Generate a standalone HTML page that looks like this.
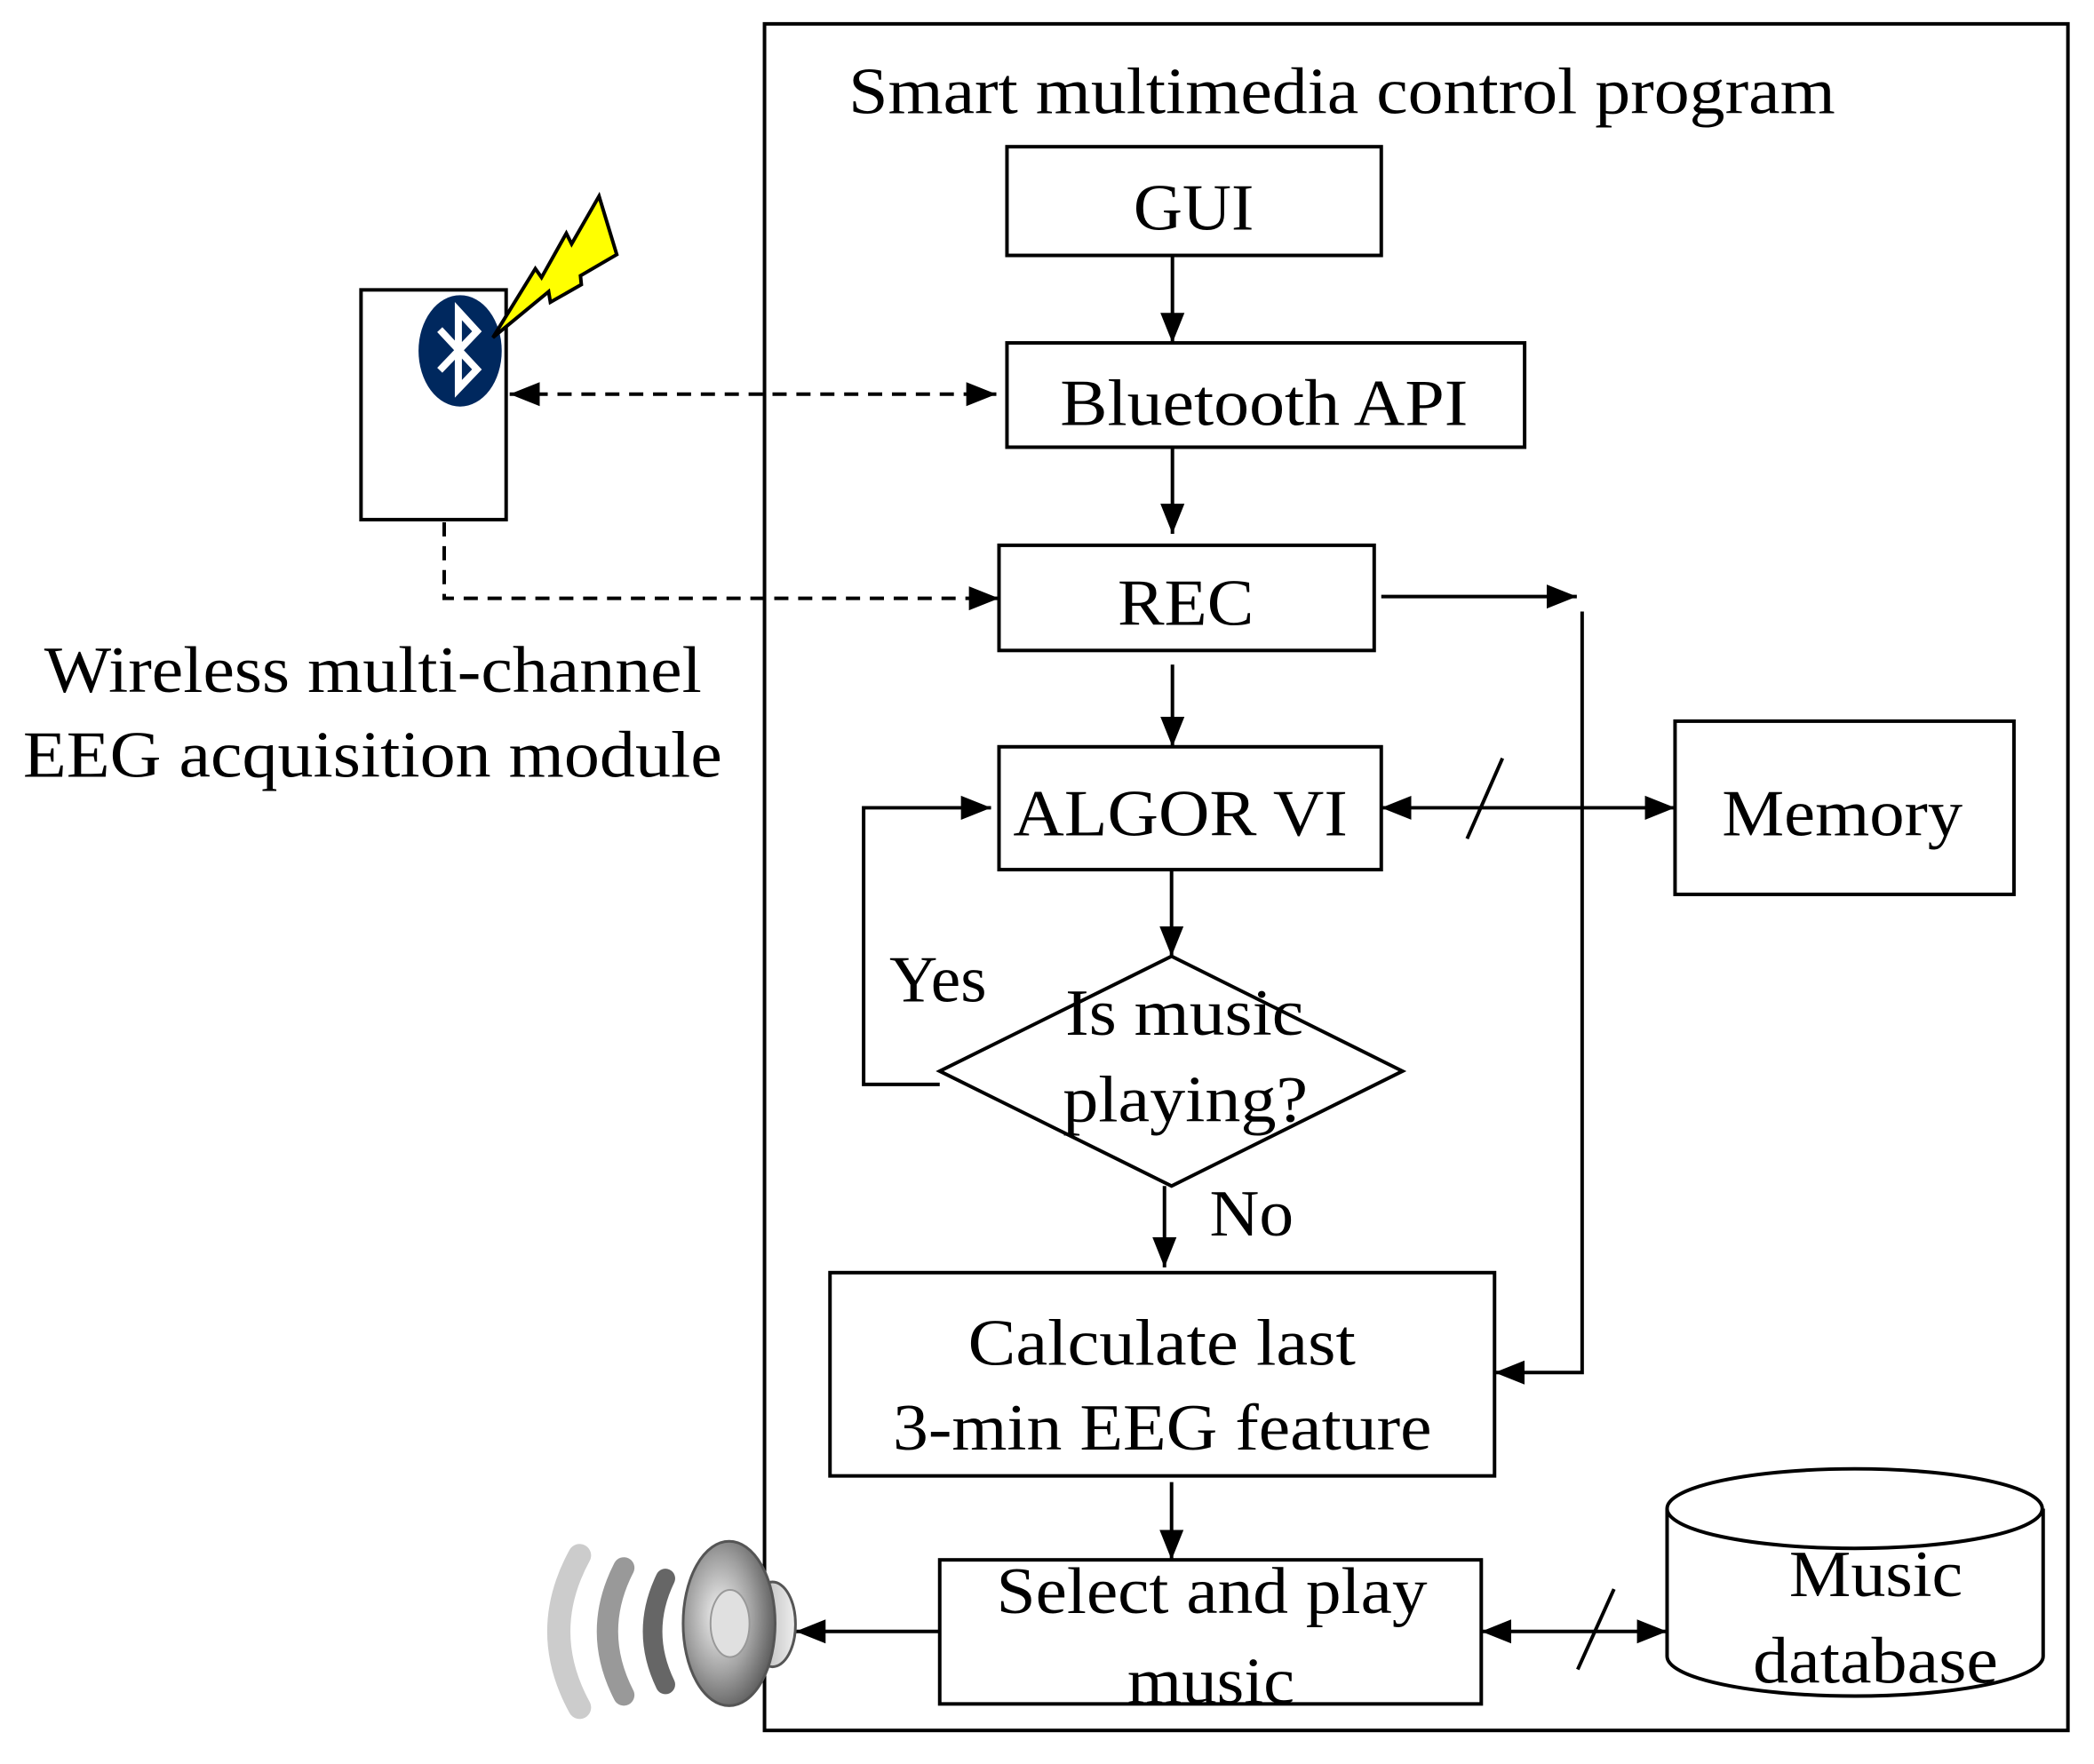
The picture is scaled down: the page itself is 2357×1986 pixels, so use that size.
<!DOCTYPE html>
<html><head><meta charset="utf-8"><style>html,body{margin:0;padding:0;background:#fff}svg{display:block}</style></head>
<body>
<svg width="2357" height="1986" viewBox="0 0 2357 1986" xmlns="http://www.w3.org/2000/svg">
<defs>
<marker id="a" viewBox="0 0 10 10" refX="10" refY="5" markerWidth="34" markerHeight="34" markerUnits="userSpaceOnUse" orient="auto-start-reverse"><path d="M0,1 L10,5 L0,9 z" fill="#000"/></marker>
<radialGradient id="cone" cx="0.4" cy="0.45" r="0.6"><stop offset="0" stop-color="#f4f4f4"/><stop offset="0.6" stop-color="#a0a0a0"/><stop offset="1" stop-color="#606060"/></radialGradient>
<linearGradient id="cg" x1="0" x2="1"><stop offset="0" stop-color="#777"/><stop offset="0.5" stop-color="#ccc"/><stop offset="1" stop-color="#eee"/></linearGradient>
</defs>
<g transform="scale(0.996,0.995)">
<g fill="none" stroke="#000" stroke-width="4">
<rect x="864" y="27" width="1473" height="1931"/>
<rect x="1138" y="166" width="423" height="123"/>
<rect x="1138" y="388" width="585" height="118"/>
<rect x="1129" y="617" width="424" height="119"/>
<rect x="1129" y="845" width="432" height="139"/>
<rect x="1893" y="816" width="383" height="196"/>
<polygon points="1062,1212 1324,1082 1585,1212 1324,1342"/>
<rect x="938" y="1440" width="751" height="230"/>
<rect x="1062" y="1765" width="612" height="163"/>
<rect x="408" y="328" width="164" height="260"/>
<path d="M1884,1707 L1884,1874 A212,45 0 0 0 2309,1874 L2309,1707"/>
<ellipse cx="2096" cy="1707" rx="212" ry="45"/>
<line x1="1325" y1="289" x2="1325" y2="388" marker-end="url(#a)"/>
<line x1="1325" y1="506" x2="1325" y2="604" marker-end="url(#a)"/>
<line x1="1325" y1="752" x2="1325" y2="845" marker-end="url(#a)"/>
<line x1="1324" y1="984" x2="1324" y2="1082" marker-end="url(#a)"/>
<line x1="1316" y1="1342" x2="1316" y2="1434" marker-end="url(#a)"/>
<line x1="1324" y1="1677" x2="1324" y2="1765" marker-end="url(#a)"/>
<line x1="1561" y1="675" x2="1782" y2="675" marker-end="url(#a)"/>
<polyline points="1788,692 1788,1553 1689,1553" marker-end="url(#a)"/>
<line x1="1561" y1="914" x2="1893" y2="914" marker-start="url(#a)" marker-end="url(#a)"/>
<line x1="1658" y1="949" x2="1698" y2="858"/>
<polyline points="1062,1227 976,1227 976,914 1120,914" marker-end="url(#a)"/>
<line x1="1674" y1="1846" x2="1884" y2="1846" marker-start="url(#a)" marker-end="url(#a)"/>
<line x1="1783" y1="1889" x2="1824" y2="1798"/>
<line x1="1062" y1="1846" x2="899" y2="1846" marker-end="url(#a)"/>
<line x1="576" y1="446" x2="1126" y2="446" stroke-dasharray="16,11" marker-start="url(#a)" marker-end="url(#a)"/>
<polyline points="502,591 502,677 1129,677" stroke-dasharray="16,11" marker-end="url(#a)"/>
</g>
<ellipse cx="520" cy="397" rx="47" ry="63" fill="#00285e"/>
<polyline points="497,373 539,418 518,440 518,352 539,375 497,419" fill="none" stroke="#fff" stroke-width="8"/>
<polygon points="557,382 605,304 612,314 640,264 646,276 677,222 697,288 656,312 657,322 622,342 620,330" fill="#ff0" stroke="#000" stroke-width="4"/>
<path d="M655,1760 Q608,1846 655,1932" fill="none" stroke="#ccc" stroke-width="26" stroke-linecap="round"/>
<path d="M705,1774 Q668,1846 705,1918" fill="none" stroke="#999" stroke-width="24" stroke-linecap="round"/>
<path d="M752,1786 Q723,1846 752,1906" fill="none" stroke="#666" stroke-width="22" stroke-linecap="round"/>
<ellipse cx="873" cy="1838" rx="26" ry="48" fill="url(#cg)" stroke="#555" stroke-width="3"/>
<ellipse cx="824" cy="1837" rx="52" ry="93" fill="url(#cone)" stroke="#555" stroke-width="3"/>
<ellipse cx="825" cy="1837" rx="22" ry="38" fill="#e0e0e0" stroke="#999" stroke-width="2"/>
<g font-family="'Liberation Serif', serif" font-size="74" fill="#000">
<text x="959" y="128" textLength="1115" lengthAdjust="spacingAndGlyphs">Smart multimedia control program</text>
<text x="1281" y="260" textLength="136" lengthAdjust="spacingAndGlyphs">GUI</text>
<text x="1198" y="481" textLength="461" lengthAdjust="spacingAndGlyphs">Bluetooth API</text>
<text x="1263" y="707" textLength="154" lengthAdjust="spacingAndGlyphs">REC</text>
<text x="1145" y="945" textLength="378" lengthAdjust="spacingAndGlyphs">ALGOR VI</text>
<text x="1946" y="945" textLength="272" lengthAdjust="spacingAndGlyphs">Memory</text>
<text x="1005" y="1133" textLength="110" lengthAdjust="spacingAndGlyphs">Yes</text>
<text x="1204" y="1171" textLength="269" lengthAdjust="spacingAndGlyphs">Is music</text>
<text x="1201" y="1269" textLength="277" lengthAdjust="spacingAndGlyphs">playing?</text>
<text x="1367" y="1398" textLength="95" lengthAdjust="spacingAndGlyphs">No</text>
<text x="1094" y="1544" textLength="438" lengthAdjust="spacingAndGlyphs">Calculate last</text>
<text x="1009" y="1640" textLength="609" lengthAdjust="spacingAndGlyphs">3-min EEG feature</text>
<text x="1126" y="1825" textLength="487" lengthAdjust="spacingAndGlyphs">Select and play</text>
<text x="1274" y="1927" textLength="189" lengthAdjust="spacingAndGlyphs">music</text>
<text x="2022" y="1806" textLength="196" lengthAdjust="spacingAndGlyphs">Music</text>
<text x="1981" y="1904" textLength="277" lengthAdjust="spacingAndGlyphs">database</text>
<text x="50" y="783" textLength="743" lengthAdjust="spacingAndGlyphs">Wireless multi-channel</text>
<text x="26" y="879" textLength="790" lengthAdjust="spacingAndGlyphs">EEG acquisition module</text>
</g>
</g>
</svg>
</body></html>
